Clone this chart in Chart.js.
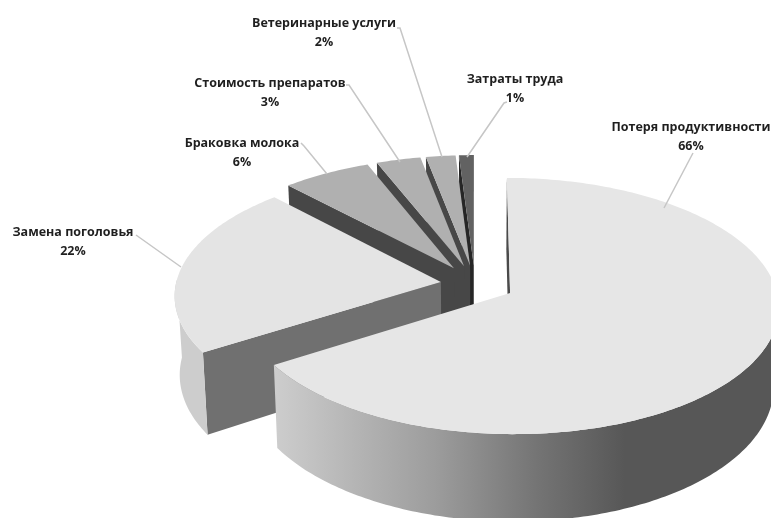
<!DOCTYPE html>
<html>
<head>
<meta charset="utf-8">
<title>Структура потерь</title>
<style>
    html, body { margin: 0; padding: 0; background: #fff; }
    canvas { display: block; }
</style>
<script src="https://cdn.jsdelivr.net/npm/chart.js@4"></script>
</head>
<body>
<canvas id="pieChart" width="771" height="518"></canvas>
<script>
    var categories = ["Потеря продуктивности", "Замена поголовья", "Браковка молока",
                      "Стоимость препаратов", "Ветеринарные услуги", "Затраты труда"];
    var values = [66, 22, 6, 3, 2, 1];

    var topColors = ['#e6e6e6', '#e4e4e4', '#b0b0b0', '#b0b0b0', '#b0b0b0', '#626262'];
    var cutColors = ['#4a4a4a', '#707070', '#474747', '#474747', '#474747', '#262626'];
    var explode = [0.15, 0.13, 0.15, 0.15, 0.15, 0.15];

    // label anchor (centre x, first line y) and the leader line that goes with it
    var labelSpots = [
        { x: 691, y: 127, line: [[693, 153], [664, 208]] },
        { x: 73, y: 232, line: [[136, 235], [181, 267]] },
        { x: 242, y: 143, line: [[301, 143], [304, 146], [327, 174]] },
        { x: 270, y: 83, line: [[346, 85], [349, 85], [400, 162]] },
        { x: 324, y: 23, line: [[397, 28], [400, 28], [442, 157]] },
        { x: 515, y: 79, line: [[507, 102], [504, 103], [467, 157]] }
    ];

    // view of the tilted disc
    var view = { cx: 475, cy: 284, rx: 265, ry: 125, k: 0.1, depth: 78, shrink: 0.983 };

    function project(u, v, low) {
        var w = 1 - view.k * v;
        var x = view.cx + view.rx * u / w;
        var y = view.cy + view.ry * v / w;
        if (low) {
            x = view.cx + (x - view.cx) * view.shrink;
            y = y + view.depth / w;
        }
        return [x, y];
    }

    function polygon(ctx, points, fill) {
        ctx.beginPath();
        points.forEach(function (p, i) {
            if (i === 0) ctx.moveTo(p[0], p[1]);
            else ctx.lineTo(p[0], p[1]);
        });
        ctx.closePath();
        ctx.fillStyle = fill;
        ctx.fill();
    }

    function drawSlice(ctx, arc, index, wallFill) {
        var start = arc.startAngle;
        var end = arc.endAngle;
        var mid = (start + end) / 2;
        var ox = Math.cos(mid) * explode[index];
        var oy = Math.sin(mid) * explode[index];

        var rimTop = [];
        var wallTop = [];
        var wallLow = [];
        var steps = Math.max(4, Math.ceil((end - start) * 60));
        for (var s = 0; s <= steps; s++) {
            var a = start + (end - start) * s / steps;
            var u = ox + Math.cos(a);
            var v = oy + Math.sin(a);
            rimTop.push(project(u, v, false));
            // only the front of the rim can be seen
            if (Math.sin(a) >= -0.02) {
                wallTop.push(project(u, v, false));
                wallLow.push(project(u, v, true));
            }
        }
        var apexTop = project(ox, oy, false);
        var apexLow = project(ox, oy, true);
        var edgeLow = project(ox + Math.cos(start), oy + Math.sin(start), true);

        polygon(ctx, [apexTop, rimTop[0], edgeLow, apexLow], cutColors[index]);
        if (wallTop.length > 1) {
            polygon(ctx, wallTop.concat(wallLow.reverse()), wallFill);
        }
        polygon(ctx, [apexTop].concat(rimTop), arc.options.backgroundColor);
    }

    var pie3d = {
        id: 'pie3d',
        beforeDatasetsDraw: function (chart) {
            var ctx = chart.ctx;
            var arcs = chart.getDatasetMeta(0).data;

            var wallFill = ctx.createLinearGradient(275, 0, 625, 0);
            wallFill.addColorStop(0, '#cdcdcd');
            wallFill.addColorStop(0.46, '#9c9c9c');
            wallFill.addColorStop(0.75, '#747474');
            wallFill.addColorStop(1, '#575757');

            ctx.save();
            for (var i = arcs.length - 1; i >= 0; i--) {
                drawSlice(ctx, arcs[i], i, wallFill);
            }
            ctx.restore();
            return false;
        },
        afterDraw: function (chart) {
            var ctx = chart.ctx;
            ctx.save();
            ctx.strokeStyle = '#c6c6c6';
            ctx.lineWidth = 1.5;
            labelSpots.forEach(function (spot, i) {
                ctx.beginPath();
                spot.line.forEach(function (p, j) {
                    if (j === 0) ctx.moveTo(p[0], p[1]);
                    else ctx.lineTo(p[0], p[1]);
                });
                ctx.stroke();

                ctx.fillStyle = '#1f1f1f';
                ctx.font = 'bold 12.5px "Open Sans"';
                ctx.textAlign = 'center';
                ctx.textBaseline = 'middle';
                ctx.fillText(categories[i], spot.x, spot.y);
                ctx.fillText(values[i] + '%', spot.x, spot.y + 19);
            });
            ctx.restore();
        }
    };

    new Chart(document.getElementById('pieChart').getContext('2d'), {
        type: 'pie',
        data: {
            labels: categories,
            datasets: [{
                data: values,
                backgroundColor: topColors,
                borderWidth: 0
            }]
        },
        options: {
            responsive: false,
            animation: false,
            plugins: {
                legend: { display: false },
                tooltip: { enabled: false }
            }
        },
        plugins: [pie3d]
    });
</script>
</body>
</html>
